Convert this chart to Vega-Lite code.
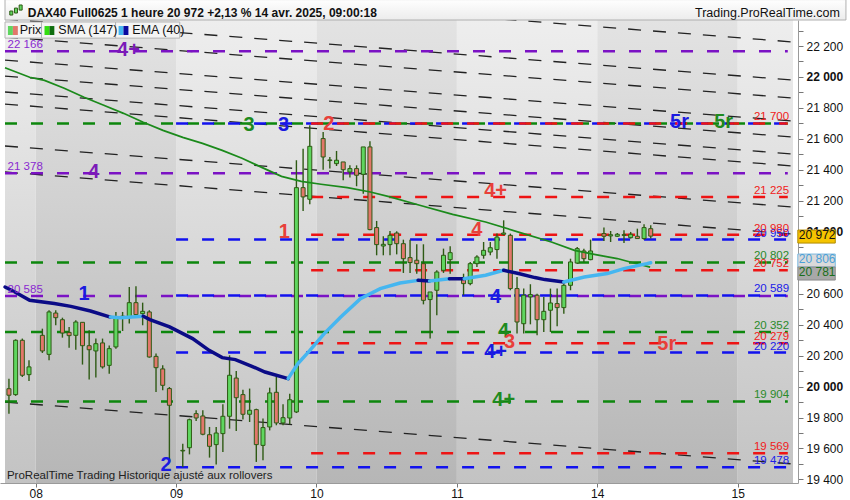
{
"$schema": "https://vega.github.io/schema/vega-lite/v6.json",
"width": 798, "height": 463,
"autosize": {"type": "none"},
"padding": {"left": 0, "top": 20, "right": 52, "bottom": 17},
"background": "white",
"config": {"view": {"stroke": null}, "font": "Liberation Sans", "text": {"font": "Liberation Sans"}},
"datasets": {
"bands": [
{"s": -0.59, "s2": 4, "p": 19377, "p2": 22368, "par": "a"},
{"s": 4, "s2": 25, "p": 19377, "p2": 22368, "par": "b"},
{"s": 25, "s2": 46, "p": 19377, "p2": 22368, "par": "a"},
{"s": 46, "s2": 67, "p": 19377, "p2": 22368, "par": "b"},
{"s": 67, "s2": 88, "p": 19377, "p2": 22368, "par": "a"},
{"s": 88, "s2": 109, "p": 19377, "p2": 22368, "par": "b"},
{"s": 109, "s2": 117.28, "p": 19377, "p2": 22368, "par": "a"}
],
"trend": [
{"id": 1, "s": -0.59, "p": 22626}, {"id": 1, "s": 117.28, "p": 22226},
{"id": 2, "s": -0.59, "p": 22374}, {"id": 2, "s": 117.28, "p": 21980},
{"id": 3, "s": -0.59, "p": 22258}, {"id": 3, "s": 117.28, "p": 21864},
{"id": 4, "s": -0.59, "p": 22109}, {"id": 4, "s": 117.28, "p": 21715},
{"id": 5, "s": -0.59, "p": 22006}, {"id": 5, "s": 117.28, "p": 21612},
{"id": 6, "s": -0.59, "p": 21903}, {"id": 6, "s": 117.28, "p": 21502},
{"id": 7, "s": -0.59, "p": 21825}, {"id": 7, "s": 117.28, "p": 21425},
{"id": 8, "s": -0.59, "p": 21554}, {"id": 8, "s": 117.28, "p": 21160},
{"id": 9, "s": -0.59, "p": 21386}, {"id": 9, "s": 117.28, "p": 20985},
{"id": 10, "s": -0.59, "p": 19900}, {"id": 10, "s": 117.28, "p": 19500}
],
"levels": [
{"s": -0.59, "s2": 116.5, "p": 22166, "grp": "vio"},
{"s": -0.59, "s2": 116.5, "p": 21700, "grp": "grn"},
{"s": 25, "s2": 116.5, "p": 21700, "grp": "blu"},
{"s": 45.2, "s2": 116.5, "p": 21700, "grp": "red"},
{"s": -0.59, "s2": 116.5, "p": 21378, "grp": "vio"},
{"s": 45.2, "s2": 116.5, "p": 21225, "grp": "red"},
{"s": 45.2, "s2": 116.5, "p": 20980, "grp": "red"},
{"s": 25, "s2": 116.5, "p": 20950, "grp": "blu"},
{"s": -0.59, "s2": 116.5, "p": 20802, "grp": "grn"},
{"s": 45.2, "s2": 116.5, "p": 20752, "grp": "red"},
{"s": -0.59, "s2": 116.5, "p": 20585, "grp": "vio"},
{"s": 25, "s2": 116.5, "p": 20589, "grp": "blu"},
{"s": -0.59, "s2": 116.5, "p": 20352, "grp": "grn"},
{"s": 45.2, "s2": 116.5, "p": 20279, "grp": "red"},
{"s": 25, "s2": 116.5, "p": 20220, "grp": "blu"},
{"s": -0.59, "s2": 116.5, "p": 19904, "grp": "grn"},
{"s": 45.2, "s2": 116.5, "p": 19569, "grp": "red"},
{"s": 25, "s2": 116.5, "p": 19478, "grp": "blu"}
],
"sma": [
{"s": -0.59, "p": 22060}, {"s": 3.1, "p": 21998}, {"s": 5.32, "p": 21978}, {"s": 8.27, "p": 21927},
{"s": 11.23, "p": 21869}, {"s": 14.18, "p": 21817}, {"s": 17.13, "p": 21765}, {"s": 20.09, "p": 21707},
{"s": 23.04, "p": 21655}, {"s": 26.0, "p": 21610}, {"s": 28.95, "p": 21571}, {"s": 31.9, "p": 21526},
{"s": 34.86, "p": 21475}, {"s": 37.81, "p": 21416}, {"s": 40.77, "p": 21358}, {"s": 43.72, "p": 21326},
{"s": 46.68, "p": 21307}, {"s": 50.62, "p": 21285}, {"s": 54.06, "p": 21257}, {"s": 57.0, "p": 21225},
{"s": 61.44, "p": 21171}, {"s": 66.37, "p": 21112}, {"s": 71.3, "p": 21063}, {"s": 76.22, "p": 20998},
{"s": 81.14, "p": 20934}, {"s": 84.59, "p": 20880}, {"s": 87.55, "p": 20854}, {"s": 90.99, "p": 20827},
{"s": 93.46, "p": 20798}, {"s": 95.91, "p": 20772}
],
"ema": [
{"seg": 1, "st": "dn", "s": -0.59, "p": 20643}, {"seg": 1, "st": "dn", "s": 0.89, "p": 20611}, {"seg": 1, "st": "dn", "s": 3.1, "p": 20557}, {"seg": 1, "st": "dn", "s": 6.79, "p": 20536}, {"seg": 1, "st": "dn", "s": 9.26, "p": 20518}, {"seg": 1, "st": "dn", "s": 12.2, "p": 20488}, {"seg": 1, "st": "dn", "s": 15.17, "p": 20449},
{"seg": 2, "st": "up", "s": 15.17, "p": 20449}, {"seg": 2, "st": "up", "s": 16.65, "p": 20445}, {"seg": 2, "st": "up", "s": 20.09, "p": 20454},
{"seg": 3, "st": "dn", "s": 20.09, "p": 20454}, {"seg": 3, "st": "dn", "s": 21.08, "p": 20433}, {"seg": 3, "st": "dn", "s": 24.03, "p": 20385}, {"seg": 3, "st": "dn", "s": 27.47, "p": 20310}, {"seg": 3, "st": "dn", "s": 29.94, "p": 20234}, {"seg": 3, "st": "dn", "s": 31.9, "p": 20187}, {"seg": 3, "st": "dn", "s": 33.87, "p": 20174}, {"seg": 3, "st": "dn", "s": 36.34, "p": 20131}, {"seg": 3, "st": "dn", "s": 38.3, "p": 20094}, {"seg": 3, "st": "dn", "s": 41.76, "p": 20051},
{"seg": 4, "st": "up", "s": 41.76, "p": 20051}, {"seg": 4, "st": "up", "s": 43.23, "p": 20148}, {"seg": 4, "st": "up", "s": 44.95, "p": 20230}, {"seg": 4, "st": "up", "s": 47.16, "p": 20342}, {"seg": 4, "st": "up", "s": 49.63, "p": 20449}, {"seg": 4, "st": "up", "s": 52.58, "p": 20568}, {"seg": 4, "st": "up", "s": 55.54, "p": 20633}, {"seg": 4, "st": "up", "s": 58.49, "p": 20669}, {"seg": 4, "st": "up", "s": 61.2, "p": 20686},
{"seg": 5, "st": "dn", "s": 61.2, "p": 20686}, {"seg": 5, "st": "dn", "s": 62.92, "p": 20682},
{"seg": 6, "st": "up", "s": 62.92, "p": 20682}, {"seg": 6, "st": "up", "s": 65.88, "p": 20697},
{"seg": 7, "st": "dn", "s": 65.88, "p": 20697}, {"seg": 7, "st": "dn", "s": 68.1, "p": 20697},
{"seg": 8, "st": "up", "s": 68.1, "p": 20697}, {"seg": 8, "st": "up", "s": 71.3, "p": 20719}, {"seg": 8, "st": "up", "s": 74.0, "p": 20751},
{"seg": 9, "st": "dn", "s": 74.0, "p": 20751}, {"seg": 9, "st": "dn", "s": 76.22, "p": 20730}, {"seg": 9, "st": "dn", "s": 78.68, "p": 20704}, {"seg": 9, "st": "dn", "s": 80.16, "p": 20691}, {"seg": 9, "st": "dn", "s": 83.0, "p": 20675},
{"seg": 10, "st": "up", "s": 83.0, "p": 20675}, {"seg": 10, "st": "up", "s": 86.07, "p": 20708}, {"seg": 10, "st": "up", "s": 89.51, "p": 20730}, {"seg": 10, "st": "up", "s": 91.98, "p": 20762}, {"seg": 10, "st": "up", "s": 95.42, "p": 20794}, {"seg": 10, "st": "up", "s": 96.0, "p": 20800}
],
"candles": [
{"s": 0, "o": 19986, "p2": 20051, "p": 19825, "c": 19944},
{"s": 1, "o": 19948, "p2": 20305, "p": 19940, "c": 20299},
{"s": 2, "o": 20299, "p2": 20310, "p": 20062, "c": 20073},
{"s": 3, "o": 20077, "p2": 20170, "p": 20036, "c": 20127},
{"s": 5, "o": 20331, "p2": 20374, "p": 20217, "c": 20230},
{"s": 6, "o": 20208, "p2": 20493, "p": 20170, "c": 20482},
{"s": 7, "o": 20475, "p2": 20493, "p": 20396, "c": 20445},
{"s": 8, "o": 20432, "p2": 20445, "p": 20316, "c": 20346},
{"s": 9, "o": 20350, "p2": 20385, "p": 20251, "c": 20329},
{"s": 10, "o": 20331, "p2": 20428, "p": 20238, "c": 20417},
{"s": 11, "o": 20415, "p2": 20417, "p": 20142, "c": 20264},
{"s": 12, "o": 20264, "p2": 20363, "p": 20045, "c": 20238},
{"s": 13, "o": 20230, "p2": 20310, "p": 20058, "c": 20277},
{"s": 14, "o": 20282, "p2": 20310, "p": 20116, "c": 20127},
{"s": 15, "o": 20137, "p2": 20266, "p": 20083, "c": 20245},
{"s": 16, "o": 20256, "p2": 20482, "p": 20245, "c": 20450},
{"s": 17, "o": 20445, "p2": 20482, "p": 20359, "c": 20455},
{"s": 18, "o": 20445, "p2": 20643, "p": 20407, "c": 20542},
{"s": 19, "o": 20542, "p2": 20648, "p": 20445, "c": 20465},
{"s": 20, "o": 20471, "p2": 20542, "p": 20396, "c": 20486},
{"s": 21, "o": 20482, "p2": 20493, "p": 20187, "c": 20191},
{"s": 22, "o": 20195, "p2": 20213, "p": 19965, "c": 20122},
{"s": 23, "o": 20114, "p2": 20137, "p": 19976, "c": 20008},
{"s": 24, "o": 19987, "p2": 19997, "p": 19520, "c": 19879},
{"s": 26, "o": 19584, "p2": 19631, "p": 19481, "c": 19588},
{"s": 27, "o": 19605, "p2": 19793, "p": 19562, "c": 19786},
{"s": 28, "o": 19825, "p2": 19847, "p": 19778, "c": 19797},
{"s": 29, "o": 19810, "p2": 19847, "p": 19685, "c": 19692},
{"s": 30, "o": 19689, "p2": 19739, "p": 19541, "c": 19614},
{"s": 31, "o": 19625, "p2": 19739, "p": 19496, "c": 19700},
{"s": 32, "o": 19696, "p2": 19885, "p": 19577, "c": 19808},
{"s": 33, "o": 19808, "p2": 20202, "p": 19728, "c": 20073},
{"s": 34, "o": 20055, "p2": 20101, "p": 19713, "c": 19928},
{"s": 35, "o": 19948, "p2": 19980, "p": 19788, "c": 19821},
{"s": 36, "o": 19821, "p2": 19987, "p": 19771, "c": 19847},
{"s": 37, "o": 19851, "p2": 19857, "p": 19513, "c": 19625},
{"s": 38, "o": 19620, "p2": 19793, "p": 19524, "c": 19735},
{"s": 39, "o": 19739, "p2": 19993, "p": 19717, "c": 19959},
{"s": 40, "o": 19963, "p2": 20062, "p": 19750, "c": 19765},
{"s": 41, "o": 19765, "p2": 19885, "p": 19750, "c": 19799},
{"s": 42, "o": 19797, "p2": 19954, "p": 19756, "c": 19915},
{"s": 43, "o": 19836, "p2": 21462, "p": 19829, "c": 21285},
{"s": 44, "o": 21285, "p2": 21537, "p": 21134, "c": 21225},
{"s": 45, "o": 21210, "p2": 21688, "p": 21177, "c": 21552},
{"s": 47, "o": 21602, "p2": 21645, "p": 21401, "c": 21483},
{"s": 48, "o": 21460, "p2": 21483, "p": 21408, "c": 21464},
{"s": 49, "o": 21440, "p2": 21522, "p": 21425, "c": 21462},
{"s": 50, "o": 21451, "p2": 21451, "p": 21332, "c": 21401},
{"s": 51, "o": 21386, "p2": 21429, "p": 21350, "c": 21408},
{"s": 52, "o": 21408, "p2": 21429, "p": 21294, "c": 21365},
{"s": 53, "o": 21371, "p2": 21548, "p": 21246, "c": 21548},
{"s": 54, "o": 21548, "p2": 21584, "p": 21009, "c": 21014},
{"s": 55, "o": 21027, "p2": 21070, "p": 20848, "c": 20917},
{"s": 56, "o": 20908, "p2": 20971, "p": 20848, "c": 20919},
{"s": 57, "o": 20917, "p2": 21005, "p": 20848, "c": 20977},
{"s": 58, "o": 20992, "p2": 21003, "p": 20854, "c": 20923},
{"s": 59, "o": 20923, "p2": 20949, "p": 20734, "c": 20826},
{"s": 60, "o": 20833, "p2": 20949, "p": 20734, "c": 20801},
{"s": 61, "o": 20816, "p2": 20919, "p": 20729, "c": 20794},
{"s": 62, "o": 20794, "p2": 20919, "p": 20531, "c": 20557},
{"s": 63, "o": 20562, "p2": 20611, "p": 20310, "c": 20611},
{"s": 64, "o": 20622, "p2": 20751, "p": 20460, "c": 20740},
{"s": 65, "o": 20751, "p2": 20891, "p": 20734, "c": 20848},
{"s": 66, "o": 20820, "p2": 20906, "p": 20729, "c": 20865},
{"s": 68, "o": 20697, "p2": 20729, "p": 20590, "c": 20665},
{"s": 69, "o": 20665, "p2": 20805, "p": 20654, "c": 20794},
{"s": 70, "o": 20794, "p2": 20848, "p": 20773, "c": 20837},
{"s": 71, "o": 20848, "p2": 20934, "p": 20826, "c": 20880},
{"s": 72, "o": 20869, "p2": 20934, "p": 20848, "c": 20897},
{"s": 73, "o": 20885, "p2": 20988, "p": 20826, "c": 20966},
{"s": 74, "o": 20984, "p2": 21074, "p": 20977, "c": 20992},
{"s": 75, "o": 20977, "p2": 20988, "p": 20622, "c": 20633},
{"s": 76, "o": 20633, "p2": 20708, "p": 20342, "c": 20417},
{"s": 77, "o": 20406, "p2": 20633, "p": 20342, "c": 20590},
{"s": 78, "o": 20579, "p2": 20661, "p": 20402, "c": 20594},
{"s": 79, "o": 20590, "p2": 20600, "p": 20331, "c": 20432},
{"s": 80, "o": 20432, "p2": 20579, "p": 20353, "c": 20486},
{"s": 81, "o": 20493, "p2": 20633, "p": 20353, "c": 20540},
{"s": 82, "o": 20536, "p2": 20633, "p": 20389, "c": 20510},
{"s": 83, "o": 20510, "p2": 20665, "p": 20471, "c": 20654},
{"s": 84, "o": 20654, "p2": 20826, "p": 20622, "c": 20805},
{"s": 85, "o": 20798, "p2": 20902, "p": 20794, "c": 20891},
{"s": 86, "o": 20876, "p2": 20891, "p": 20805, "c": 20826},
{"s": 87, "o": 20820, "p2": 20949, "p": 20816, "c": 20876},
{"s": 89, "o": 20988, "p2": 21027, "p": 20941, "c": 20971},
{"s": 90, "o": 20973, "p2": 21005, "p": 20934, "c": 20981},
{"s": 91, "o": 20971, "p2": 20992, "p": 20966, "c": 20984},
{"s": 92, "o": 20977, "p2": 21009, "p": 20928, "c": 20981},
{"s": 93, "o": 20962, "p2": 20999, "p": 20956, "c": 20984},
{"s": 94, "o": 20971, "p2": 21020, "p": 20956, "c": 20956},
{"s": 95, "o": 20956, "p2": 21048, "p": 20949, "c": 21027},
{"s": 96, "o": 21020, "p2": 21042, "p": 20956, "c": 20972}
],
"nums": [
{"s": 17.87, "p": 22174, "t": "4+", "grp": "vio"},
{"s": 35.9, "p": 21690, "t": "3", "grp": "grn"},
{"s": 41.06, "p": 21690, "t": "3", "grp": "blu"},
{"s": 47.86, "p": 21696, "t": "2", "grp": "red"},
{"s": 12.7, "p": 21386, "t": "4", "grp": "vio"},
{"s": 72.8, "p": 21263, "t": "4+", "grp": "red"},
{"s": 41.2, "p": 20998, "t": "1", "grp": "red"},
{"s": 70.0, "p": 21011, "t": "4", "grp": "red"},
{"s": 11.23, "p": 20598, "t": "1", "grp": "blu"},
{"s": 72.8, "p": 20578, "t": "4", "grp": "blu"},
{"s": 74.0, "p": 20359, "t": "4", "grp": "grn"},
{"s": 74.9, "p": 20288, "t": "3", "grp": "red"},
{"s": 72.8, "p": 20223, "t": "4+", "grp": "blu"},
{"s": 98.4, "p": 20275, "t": "5r", "grp": "red"},
{"s": 74.0, "p": 19913, "t": "4+", "grp": "grn"},
{"s": 23.5, "p": 19493, "t": "2", "grp": "blu"},
{"s": 100.3, "p": 21709, "t": "5r", "grp": "blu"},
{"s": 106.9, "p": 21709, "t": "5r", "grp": "grn"}
],
"valsR": [
{"s": 116.7, "p": 21700, "t": "21 700", "grp": "red"},
{"s": 116.7, "p": 21225, "t": "21 225", "grp": "red"},
{"s": 116.7, "p": 20950, "t": "20 950", "grp": "blu"},
{"s": 116.7, "p": 20980, "t": "20 980", "grp": "red"},
{"s": 116.7, "p": 20802, "t": "20 802", "grp": "grn"},
{"s": 116.7, "p": 20752, "t": "20 752", "grp": "red"},
{"s": 116.7, "p": 20589, "t": "20 589", "grp": "blu"},
{"s": 116.7, "p": 20352, "t": "20 352", "grp": "grn"},
{"s": 116.7, "p": 20279, "t": "20 279", "grp": "red"},
{"s": 116.7, "p": 20220, "t": "20 220", "grp": "blu"},
{"s": 116.7, "p": 19904, "t": "19 904", "grp": "grn"},
{"s": 116.7, "p": 19569, "t": "19 569", "grp": "red"},
{"s": 116.7, "p": 19478, "t": "19 478", "grp": "blu"}
],
"valsL": [
{"s": -0.2, "p": 22166, "t": "22 166"},
{"s": -0.2, "p": 21378, "t": "21 378"},
{"s": -0.2, "p": 20585, "t": "20 585"}
],
"legbox": [
{"s": -0.59, "s2": 4.87, "p": 22251, "p2": 22355},
{"s": 4.87, "s2": 15.95, "p": 22251, "p2": 22355},
{"s": 15.95, "s2": 25.55, "p": 22251, "p2": 22355}
],
"legsw": [
{"s": -0.15, "s2": 0.59, "p": 22271, "p2": 22329, "grp": "a"},
{"s": 0.59, "s2": 1.33, "p": 22271, "p2": 22329, "grp": "b"},
{"s": 5.32, "s2": 6.06, "p": 22271, "p2": 22329, "grp": "c"},
{"s": 6.06, "s2": 6.79, "p": 22271, "p2": 22329, "grp": "d"},
{"s": 16.4, "s2": 17.13, "p": 22271, "p2": 22329, "grp": "e"},
{"s": 17.13, "s2": 17.87, "p": 22271, "p2": 22329, "grp": "f"}
],
"legtxt": [
{"s": 1.62, "p": 22301, "t": "Prix"},
{"s": 7.39, "p": 22301, "t": "SMA (147)"},
{"s": 18.46, "p": 22301, "t": "EMA (40)"}
],
"header": [{"s": -0.59, "s2": 125.2, "p": 22368, "p2": 22500}],
"icon": [
{"s": 0.35, "p": 22400, "p2": 22426},
{"s": 1.05, "p": 22413, "p2": 22445},
{"s": 1.75, "p": 22432, "p2": 22465}
],
"headtxt": [{"s": 2.81, "p": 22416, "t": "DAX40 Full0625 1 heure 20 972 +2,13 % 14 avr. 2025, 09:00:18"}],
"headtxtR": [{"s": 124.3, "p": 22416, "t": "Trading.ProRealTime.com"}],
"foot": [{"s": -0.3, "p": 19422, "t": "ProRealTime Trading  Historique ajusté aux rollovers"}],
"boxes": [
{"box": "last", "s": 118.0, "s2": 123.6, "p": 20927, "p2": 21011, "t": "20 972"},
{"box": "ema", "s": 118.0, "s2": 123.6, "p": 20772, "p2": 20856, "t": "20 806"},
{"box": "sma", "s": 118.0, "s2": 123.6, "p": 20688, "p2": 20772, "t": "20 781"}
]
},
"encoding": {
"x": {"field": "s", "type": "quantitative", "title": null,
 "scale": {"domain": [-0.59, 117.28], "nice": false, "zero": false},
 "axis": {"values": [4, 25, 46, 67, 88, 109],
  "labelExpr": "datum.value == 4 ? '08' : datum.value == 25 ? '09' : datum.value == 46 ? '10' : datum.value == 67 ? '11' : datum.value == 88 ? '14' : '15'",
  "grid": false, "tickSize": 4, "labelPadding": 1, "labelFontSize": 12, "labelColor": "#111", "domainColor": "#9a9a9a", "tickColor": "#777", "labelFont": "Liberation Sans"}},
"y": {"field": "p", "type": "quantitative", "title": null,
 "scale": {"domain": [19377, 22368], "nice": false, "zero": false},
 "axis": {"orient": "right",
  "values": [19400,19500,19600,19700,19800,19900,20000,20100,20200,20300,20400,20500,20600,20700,20800,20900,21000,21100,21200,21300,21400,21500,21600,21700,21800,21900,22000,22100,22200,22300],
  "labelExpr": "datum.value % 200 == 0 && datum.value != 20800 ? replace(format(datum.value, ','), ',', ' ') : ''",
  "grid": false, "tickSize": 5, "labelPadding": 3, "labelFontSize": 12, "labelColor": "#111",
  "labelFontWeight": {"condition": {"test": "datum.value % 1000 == 0", "value": "bold"}, "value": "normal"},
  "domainColor": "#9a9a9a", "tickColor": "#777", "labelOverlap": false, "labelBound": false, "labelFont": "Liberation Sans"}}
},
"layer": [
{"data": {"name": "bands"}, "transform": [{"filter": "datum.par == 'a'"}],
 "mark": {"type": "rect", "fill": {"gradient": "linear", "x1": 0, "y1": 0, "x2": 0, "y2": 1, "stops": [{"offset": 0, "color": "#eeeeee"}, {"offset": 1, "color": "#c3c3c3"}]}},
 "encoding": {"x2": {"field": "s2"}, "y2": {"field": "p2"}}},
{"data": {"name": "bands"}, "transform": [{"filter": "datum.par == 'b'"}],
 "mark": {"type": "rect", "fill": {"gradient": "linear", "x1": 0, "y1": 0, "x2": 0, "y2": 1, "stops": [{"offset": 0, "color": "#e3e3e3"}, {"offset": 1, "color": "#b6b6b6"}]}},
 "encoding": {"x2": {"field": "s2"}, "y2": {"field": "p2"}}},
{"data": {"name": "trend"},
 "mark": {"type": "line", "clip": true, "color": "#222222", "strokeWidth": 1.3, "strokeDash": [13, 12]},
 "encoding": {"detail": {"field": "id"}}},
{"data": {"name": "levels"},
 "mark": {"type": "rule", "strokeWidth": 2.5, "strokeDash": [12, 14]},
 "encoding": {"x2": {"field": "s2"},
  "color": {"field": "grp", "type": "nominal", "legend": null, "scale": {"domain": ["vio", "grn", "blu", "red"], "range": ["#7b12c4", "#0d870d", "#1212ee", "#ee1414"]}}}},
{"data": {"name": "candles"},
 "mark": {"type": "rule", "color": "#2e5a14", "strokeWidth": 1.4},
 "encoding": {"y2": {"field": "p2"}}},
{"data": {"name": "candles"},
 "mark": {"type": "bar", "orient": "vertical", "width": 4, "stroke": "#2e5a14", "strokeWidth": 1},
 "encoding": {
  "y": {"field": "o", "type": "quantitative", "title": null,
   "scale": {"domain": [19377, 22368], "nice": false, "zero": false},
   "axis": {"orient": "right",
    "values": [19400,19500,19600,19700,19800,19900,20000,20100,20200,20300,20400,20500,20600,20700,20800,20900,21000,21100,21200,21300,21400,21500,21600,21700,21800,21900,22000,22100,22200,22300],
    "labelExpr": "datum.value % 200 == 0 && datum.value != 20800 ? replace(format(datum.value, ','), ',', ' ') : ''",
    "grid": false, "tickSize": 5, "labelPadding": 3, "labelFontSize": 12, "labelColor": "#111",
    "labelFontWeight": {"condition": {"test": "datum.value % 1000 == 0", "value": "bold"}, "value": "normal"},
    "domainColor": "#9a9a9a", "tickColor": "#777", "labelOverlap": false, "labelBound": false, "labelFont": "Liberation Sans"}},
  "y2": {"field": "c"},
  "fill": {"condition": {"test": "datum.c >= datum.o", "value": "#5fd65f"}, "value": "#e2776b"}}},
{"data": {"name": "sma"},
 "mark": {"type": "line", "color": "#1b8a1b", "strokeWidth": 1.7}},
{"data": {"name": "ema"},
 "mark": {"type": "line", "strokeWidth": 3.5, "strokeCap": "round"},
 "encoding": {"detail": {"field": "seg"},
  "color": {"field": "st", "type": "nominal", "legend": null, "scale": {"domain": ["up", "dn"], "range": ["#45b6f0", "#0b0b86"]}}}},
{"data": {"name": "nums"},
 "mark": {"type": "text", "fontSize": 20, "fontWeight": "bold", "align": "center", "baseline": "middle"},
 "encoding": {"text": {"field": "t"},
  "color": {"field": "grp", "type": "nominal", "legend": null, "scale": {"domain": ["vio", "grn", "blu", "red"], "range": ["#7b1ab8", "#1e8a1e", "#1a1ae0", "#e8403a"]}}}},
{"data": {"name": "valsR"},
 "mark": {"type": "text", "fontSize": 11.5, "align": "right", "baseline": "bottom", "dy": -1},
 "encoding": {"text": {"field": "t"},
  "color": {"field": "grp", "type": "nominal", "legend": null, "scale": {"domain": ["vio", "grn", "blu", "red"], "range": ["#8a2ad0", "#2a8a2a", "#2020e8", "#f02020"]}}}},
{"data": {"name": "valsL"},
 "mark": {"type": "text", "fontSize": 11.5, "align": "left", "baseline": "bottom", "dy": -1, "color": "#8a2ad0"},
 "encoding": {"text": {"field": "t"}}},
{"data": {"name": "legbox"},
 "mark": {"type": "rect", "fill": "#f4f4f4", "stroke": "#b4b4b4", "strokeWidth": 1},
 "encoding": {"x2": {"field": "s2"}, "y2": {"field": "p2"}}},
{"data": {"name": "legsw"},
 "mark": {"type": "rect"},
 "encoding": {"x2": {"field": "s2"}, "y2": {"field": "p2"},
  "color": {"field": "grp", "type": "nominal", "legend": null, "scale": {"domain": ["a", "b", "c", "d", "e", "f"], "range": ["#5fd65f", "#e2776b", "#33dd11", "#0f6e0f", "#45b6f0", "#0a0aa0"]}}}},
{"data": {"name": "legtxt"},
 "mark": {"type": "text", "fontSize": 12.5, "align": "left", "baseline": "middle", "color": "#111"},
 "encoding": {"text": {"field": "t"}}},
{"data": {"name": "header"},
 "mark": {"type": "rect", "clip": false, "stroke": "#b0b0b0", "strokeWidth": 1, "fill": {"gradient": "linear", "x1": 0, "y1": 0, "x2": 0, "y2": 1, "stops": [{"offset": 0, "color": "#ffffff"}, {"offset": 1, "color": "#ececec"}]}},
 "encoding": {"x2": {"field": "s2"}, "y2": {"field": "p2"}}},
{"data": {"name": "icon"},
 "mark": {"type": "bar", "orient": "vertical", "width": 3, "fill": "#5fd65f", "stroke": "#2e5a14", "strokeWidth": 1},
 "encoding": {"y2": {"field": "p2"}}},
{"data": {"name": "headtxt"},
 "mark": {"type": "text", "fontSize": 12, "fontWeight": "bold", "align": "left", "baseline": "middle", "color": "#111"},
 "encoding": {"text": {"field": "t"}}},
{"data": {"name": "headtxtR"},
 "mark": {"type": "text", "fontSize": 12.5, "align": "right", "baseline": "middle", "color": "#111"},
 "encoding": {"text": {"field": "t"}}},
{"data": {"name": "foot"},
 "mark": {"type": "text", "fontSize": 11.5, "align": "left", "baseline": "middle", "color": "#222"},
 "encoding": {"text": {"field": "t"}}},
{"data": {"name": "boxes"}, "transform": [{"filter": "datum.box == 'last'"}],
 "mark": {"type": "rect", "fill": "#f5c400", "stroke": "#b08a00", "strokeWidth": 1},
 "encoding": {"x2": {"field": "s2"}, "y2": {"field": "p2"}}},
{"data": {"name": "boxes"}, "transform": [{"filter": "datum.box == 'ema'"}],
 "mark": {"type": "rect", "fill": "#dadada", "stroke": "#7ab8e0", "strokeWidth": 1},
 "encoding": {"x2": {"field": "s2"}, "y2": {"field": "p2"}}},
{"data": {"name": "boxes"}, "transform": [{"filter": "datum.box == 'sma'"}],
 "mark": {"type": "rect", "fill": "#a8a8a8", "stroke": "#8a8a8a", "strokeWidth": 1},
 "encoding": {"x2": {"field": "s2"}, "y2": {"field": "p2"}}},
{"data": {"name": "boxes"},
 "mark": {"type": "text", "fontSize": 12, "align": "left", "baseline": "bottom", "dx": 1, "dy": -1},
 "encoding": {"text": {"field": "t"},
  "color": {"field": "box", "type": "nominal", "legend": null, "scale": {"domain": ["last", "ema", "sma"], "range": ["#111111", "#4aa0d8", "#1a6e1a"]}}}}
],
"resolve": {"scale": {"color": "independent"}}
}
